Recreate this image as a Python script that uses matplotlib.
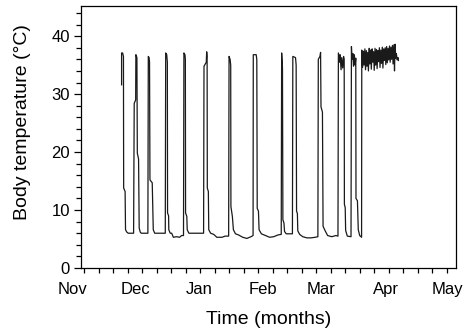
import numpy as np
import matplotlib
matplotlib.use("Agg")
import matplotlib.pyplot as plt

# days since 1 Nov, body temperature (deg C)
day = [
    # bout A (start of record)
    23.5, 23.5, 24.0, 24.4, 24.5, 25.2, 25.4, 26.0, 26.7, 29.3,
    # bout B
    29.6, 30.3, 30.4, 30.9, 31.1, 31.7, 32.0, 32.5, 33.0, 36.2,
    # bout C
    36.4, 36.8, 37.0, 37.2, 38.3, 38.8, 39.5, 44.6,
    # bout D
    44.8, 45.3, 45.6, 45.7, 46.2, 46.3, 47.0, 47.7, 48.5, 50.0, 51.5, 52.5, 53.4,
    # bout E
    53.6, 54.1, 54.3, 54.4, 55.0, 55.2, 56.0, 63.1,
    # bout F
    63.3, 64.4, 64.6, 64.8, 64.9, 65.4, 65.6, 66.5, 68.0, 69.5, 72.0, 73.5, 75.2,
    # bout G
    75.4, 75.9, 76.2, 76.3, 77.0, 77.5, 78.5, 80.0, 82.0, 84.0, 86.0, 87.0,
    # bout H
    87.1, 88.5, 88.8, 89.0, 89.6, 89.9, 91.0, 93.0, 95.0, 97.0, 99.0, 100.6,
    # bout I
    100.8, 101.2, 101.4, 101.9, 102.2, 103.0, 106.0,
    # bout J
    106.2, 107.5, 107.8, 108.0, 108.4, 108.6, 109.5, 111.0, 113.0, 115.0, 117.0, 118.3,
    # bout K
    118.5, 119.3, 119.6, 119.8, 120.5, 120.8, 121.7, 123.0, 125.0, 127.0, 128.0,
    # bout L
    128.2, 128.8, 129.0, 129.5, 129.8, 130.3, 130.7, 131.0, 131.1, 131.5, 131.7, 132.5, 134.3,
    # bout M
    134.5, 134.8, 135.2, 135.5, 135.9, 136.3, 136.6, 136.7, 137.4, 137.8, 138.5, 139.4,
    # final arousal, euthermic
    139.5, 139.9, 140.3, 140.6, 141.0, 141.3, 141.7, 142.0, 142.4, 142.7, 143.1,
    143.4, 143.8, 144.1, 144.5, 144.8, 145.2, 145.5, 145.9, 146.2, 146.6, 146.9,
    147.3, 147.6, 148.0, 148.3, 148.7, 149.0, 149.4, 149.7, 150.1, 150.4, 150.8,
    151.1, 151.5, 151.8, 152.2, 152.5, 152.9, 153.2, 153.6, 153.9, 154.3, 154.6,
    155.0, 155.3, 155.6, 155.9, 156.2, 156.6, 157.0, 157.2,
]
body_temp = [
    31.6, 37.1, 37.1, 36.5, 13.8, 13.2, 6.6, 6.2, 6.0, 6.0,
    28.4, 29.0, 36.8, 36.3, 19.8, 18.8, 6.9, 6.2, 6.0, 6.0,
    36.5, 36.3, 35.5, 15.2, 14.7, 6.6, 6.0, 6.0,
    37.1, 36.8, 35.5, 9.5, 9.0, 6.6, 6.0, 6.0, 5.3, 5.4, 5.3, 5.6, 5.6,
    37.1, 36.8, 36.0, 9.5, 8.9, 6.6, 6.0, 6.0,
    34.8, 35.5, 37.3, 36.5, 13.8, 13.2, 6.6, 6.0, 5.8, 5.3, 5.3, 5.5, 5.5,
    36.5, 36.0, 35.0, 10.6, 8.9, 6.6, 5.9, 5.7, 5.3, 5.1, 5.4, 5.6,
    36.8, 36.8, 36.0, 10.3, 9.8, 6.6, 5.9, 5.6, 5.3, 5.4, 5.7, 5.8,
    37.1, 34.5, 8.3, 7.8, 6.3, 5.9, 5.9,
    36.5, 36.3, 35.0, 9.8, 9.4, 6.4, 5.8, 5.4, 5.2, 5.2, 5.3, 5.4,
    36.0, 36.5, 37.2, 27.8, 26.9, 7.2, 6.5, 5.6, 5.4, 5.6, 5.5,
    37.1, 35.5, 36.8, 34.2, 36.3, 34.5, 36.5, 36.0, 11.0, 10.4, 6.5, 5.5, 5.4,
    38.2, 36.0, 37.0, 34.8, 36.8, 35.0, 36.2, 12.0, 11.6, 6.6, 5.6, 5.3,
    37.6, 34.6, 37.4, 35.0, 37.8, 34.2, 37.5, 34.8, 37.2, 34.0, 37.9,
    35.2, 37.6, 34.3, 37.8, 35.5, 37.3, 34.1, 37.9, 35.0, 37.7, 34.4,
    37.5, 35.6, 38.0, 34.6, 37.6, 35.3, 38.1, 34.5, 37.8, 35.8, 38.0,
    35.1, 38.2, 35.4, 37.9, 35.9, 38.3, 35.5, 38.1, 36.0, 38.4, 35.2,
    38.5, 34.0, 38.6, 36.2, 37.0, 35.9, 36.3, 35.8,
]

months = ["Nov", "Dec", "Jan", "Feb", "Mar", "Apr", "May"]
month_day = [0, 30, 61, 92, 120, 151, 181]

plt.rcParams["font.family"] = ["Liberation Sans", "DejaVu Sans"]

fig = plt.figure(figsize=(4.68, 3.35), dpi=100)
ax = fig.add_axes([81 / 468, 1 - 268 / 335, 375 / 468, 262 / 335])

ax.plot(day, body_temp, color="#1a1a1a", linewidth=0.9)

ax.set_xlim(3.9, 185.0)
ax.set_ylim(0, 45.2)

ax.set_yticks([0, 10, 20, 30, 40])
ax.set_yticks(np.arange(0, 45, 2), minor=True)
ax.tick_params(axis="y", which="major", direction="out", length=5, width=0.9, labelsize=12, pad=3)
ax.tick_params(axis="y", which="minor", direction="out", length=3.5, width=0.9)

# weekly ticks, month names written below
ax.set_xticks(np.arange(5.5, 185, 7))
ax.set_xticklabels([])
ax.tick_params(axis="x", which="major", direction="out", length=3.5, width=0.9)
for m, d in zip(months, month_day):
    ax.text(d, -0.055, m, transform=ax.get_xaxis_transform(), ha="center", va="top",
            fontsize=12, clip_on=False)

for s in ax.spines.values():
    s.set_linewidth(0.9)

fig.text(268.5 / 468, 1 - 319 / 335, "Time (months)", ha="center", va="center", fontsize=14)
fig.text(23 / 468, 1 - 122 / 335, "Body temperature (°C)", ha="center", va="center",
         rotation=90, fontsize=14)

fig.savefig("out.png", dpi=100)
